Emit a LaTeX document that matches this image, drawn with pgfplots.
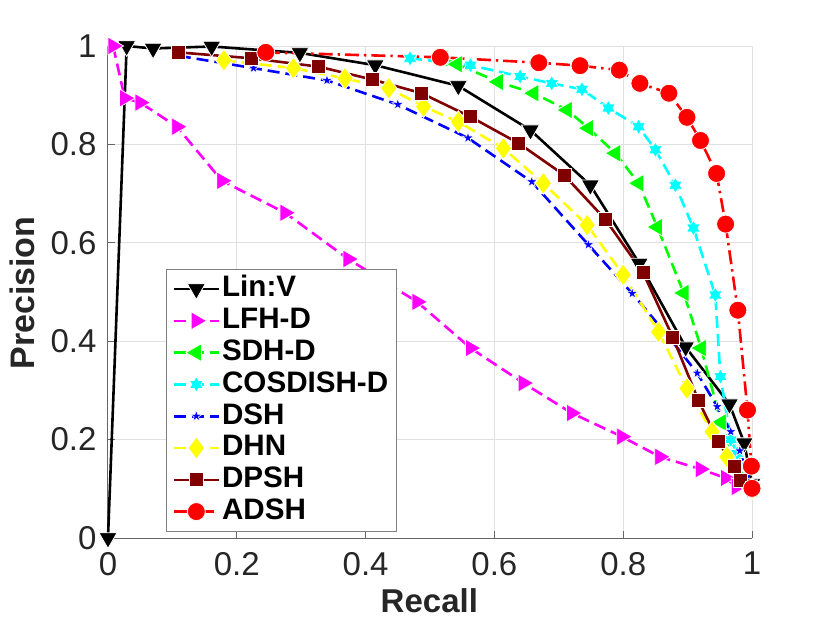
\documentclass[border=0pt]{standalone}
\usepackage{fontspec}
\setmainfont{Liberation Sans}
\usepackage{pgfplots}
\pgfplotsset{compat=1.18}
\usetikzlibrary{plotmarks}

\pgfdeclareplotmark{pentagram}{%
  \pgfpathmoveto{\pgfpointpolar{90}{\pgfplotmarksize}}%
  \pgfpathlineto{\pgfpointpolar{126}{0.382\pgfplotmarksize}}%
  \pgfpathlineto{\pgfpointpolar{162}{\pgfplotmarksize}}%
  \pgfpathlineto{\pgfpointpolar{198}{0.382\pgfplotmarksize}}%
  \pgfpathlineto{\pgfpointpolar{234}{\pgfplotmarksize}}%
  \pgfpathlineto{\pgfpointpolar{270}{0.382\pgfplotmarksize}}%
  \pgfpathlineto{\pgfpointpolar{306}{\pgfplotmarksize}}%
  \pgfpathlineto{\pgfpointpolar{342}{0.382\pgfplotmarksize}}%
  \pgfpathlineto{\pgfpointpolar{18}{\pgfplotmarksize}}%
  \pgfpathlineto{\pgfpointpolar{54}{0.382\pgfplotmarksize}}%
  \pgfpathclose\pgfusepathqfillstroke}
\pgfdeclareplotmark{hexagram}{%
  \pgfpathmoveto{\pgfpointpolar{90}{\pgfplotmarksize}}%
  \pgfpathlineto{\pgfpointpolar{120}{0.577\pgfplotmarksize}}%
  \pgfpathlineto{\pgfpointpolar{150}{\pgfplotmarksize}}%
  \pgfpathlineto{\pgfpointpolar{180}{0.577\pgfplotmarksize}}%
  \pgfpathlineto{\pgfpointpolar{210}{\pgfplotmarksize}}%
  \pgfpathlineto{\pgfpointpolar{240}{0.577\pgfplotmarksize}}%
  \pgfpathlineto{\pgfpointpolar{270}{\pgfplotmarksize}}%
  \pgfpathlineto{\pgfpointpolar{300}{0.577\pgfplotmarksize}}%
  \pgfpathlineto{\pgfpointpolar{330}{\pgfplotmarksize}}%
  \pgfpathlineto{\pgfpointpolar{0}{0.577\pgfplotmarksize}}%
  \pgfpathlineto{\pgfpointpolar{30}{\pgfplotmarksize}}%
  \pgfpathlineto{\pgfpointpolar{60}{0.577\pgfplotmarksize}}%
  \pgfpathclose\pgfusepathqfillstroke}

\definecolor{cK}{rgb}{0,0,0}
\definecolor{cM}{rgb}{1,0,1}
\definecolor{cG}{rgb}{0,1,0}
\definecolor{cC}{rgb}{0,1,1}
\definecolor{cB}{rgb}{0,0,1}
\definecolor{cY}{rgb}{1,1,0}
\definecolor{cD}{rgb}{0.5,0,0}
\definecolor{cR}{rgb}{1,0,0}

\begin{document}
\begin{tikzpicture}
\useasboundingbox (0,0) rectangle (415pt,311.5pt);
\begin{axis}[
  at={(54pt,42.5pt)}, anchor=south west,
  scale only axis, width=322pt, height=246pt,
  xmin=0, xmax=1, ymin=0, ymax=1,
  clip=false,
  axis x line*=bottom, axis y line*=left,
  axis line style={black!60, line width=0.5pt, -},
  tick align=inside, major tick length=3.5pt,
  tick style={black!60, line width=0.5pt},
  grid=major, major grid style={black!12, line width=0.5pt},
  xtick={0,0.2,0.4,0.6,0.8,1}, ytick={0,0.2,0.4,0.6,0.8,1},
  xticklabels={0,0.2,0.4,0.6,0.8,1},
  yticklabels={0,0.2,0.4,0.6,0.8,1},
  /pgf/number format/assume math mode=true,
  ticklabel style={font=\fontsize{16.5}{18}\selectfont, text=black!85},
  xticklabel style={inner sep=0pt, yshift=-6.8pt},
  yticklabel style={inner sep=0pt, xshift=-5.6pt},
  xlabel={Recall}, ylabel={Precision},
  xlabel style={at={(axis description cs:0.499,-0.1524)}, anchor=base, inner sep=0pt, font=\bfseries\fontsize{16.5}{18}\selectfont, text=black!85},
  ylabel style={at={(axis description cs:-0.1523,0.498)}, anchor=north, rotate=0, inner sep=0pt, font=\bfseries\fontsize{17}{18}\selectfont, text=black!85},
  every axis plot/.append style={line width=1.3pt},
  legend image code/.code={\draw[mark repeat=2,mark phase=2] plot coordinates {(0pt,0pt) (11.25pt,0pt) (22.5pt,0pt)};},
  legend cell align=left,
  legend style={at={(axis description cs:0.0901,0.0122)}, anchor=south west,
    draw=black!50, line width=0.5pt, fill=white,
    font=\bfseries\fontsize{14.8}{16}\selectfont,
    inner xsep=3pt, inner ysep=2pt,
    nodes={inner sep=1pt, text height=10.9pt, text depth=3pt}},
]
% Lin:V
\addplot[cK, solid, mark=triangle*, mark size=5.2pt, mark options={rotate=180, draw=white, fill=cK, line width=0.4pt, solid}] coordinates {
(0,0) (0.029,1.0) (0.07,0.995) (0.161,0.999) (0.298,0.986) (0.415,0.961) (0.544,0.919) (0.656,0.829) (0.749,0.717) (0.825,0.558) (0.897,0.388) (0.965,0.272) (0.988,0.193) (1.0,0.11)};
\addlegendentry{Lin:V}
% LFH-D
\addplot[cM, dash pattern=on 6pt off 3pt, mark=triangle*, mark size=5.2pt, mark options={rotate=-90, draw=white, fill=cM, line width=0.4pt, solid}] coordinates {
(0.008,1.0) (0.026,0.894) (0.05,0.885) (0.107,0.836) (0.177,0.726) (0.275,0.661) (0.373,0.567) (0.48,0.48) (0.563,0.386) (0.645,0.315) (0.72,0.254) (0.798,0.206) (0.857,0.165) (0.92,0.14) (0.959,0.122) (0.976,0.104) (1.0,0.1)};
\addlegendentry{LFH-D}
% SDH-D
\addplot[cG, dash pattern=on 6pt off 3pt, mark=triangle*, mark size=5.2pt, mark options={rotate=90, draw=white, fill=cG, line width=0.4pt, solid}] coordinates {
(0.52,0.975) (0.542,0.963) (0.606,0.927) (0.661,0.904) (0.713,0.87) (0.746,0.833) (0.788,0.782) (0.824,0.721) (0.853,0.632) (0.894,0.498) (0.921,0.386) (0.952,0.235) (0.975,0.15) (1.0,0.1)};
\addlegendentry{SDH-D}
% COSDISH-D
\addplot[cC, dash pattern=on 6pt off 3pt, mark=hexagram, mark size=4pt, mark options={draw=white, fill=cC, line width=0.4pt, solid}] coordinates {
(0.469,0.975) (0.563,0.961) (0.64,0.938) (0.689,0.924) (0.736,0.912) (0.777,0.874) (0.824,0.836) (0.85,0.789) (0.881,0.717) (0.909,0.63) (0.943,0.494) (0.951,0.328) (0.967,0.2) (0.977,0.172) (1.0,0.1)};
\addlegendentry{COSDISH-D}
% DSH
\addplot[cB, dash pattern=on 6pt off 3pt, mark=pentagram, mark size=3pt, mark options={draw=white, fill=cB, line width=0.3pt, solid}] coordinates {
(0.11,0.98) (0.226,0.955) (0.34,0.93) (0.45,0.881) (0.559,0.813) (0.658,0.724) (0.746,0.596) (0.814,0.497) (0.87,0.41) (0.915,0.335) (0.946,0.267) (0.967,0.216) (0.981,0.177) (1.0,0.1)};
\addlegendentry{DSH}
% DHN
\addplot[cY, dash pattern=on 6pt off 3pt, mark=diamond*, mark size=5.5pt, mark options={draw=white, fill=cY, line width=0.4pt, solid}] coordinates {
(0.18,0.971) (0.288,0.955) (0.368,0.934) (0.436,0.914) (0.49,0.877) (0.544,0.846) (0.614,0.792) (0.676,0.721) (0.744,0.636) (0.8,0.535) (0.855,0.419) (0.899,0.304) (0.938,0.216) (0.961,0.165) (1.0,0.1)};
\addlegendentry{DHN}
% DPSH
\addplot[cD, solid, mark=square*, mark size=3.5pt, mark options={draw=white, fill=cD, line width=0.4pt, solid}] coordinates {
(0.11,0.987) (0.223,0.975) (0.327,0.958) (0.41,0.932) (0.487,0.904) (0.563,0.856) (0.638,0.802) (0.708,0.738) (0.772,0.648) (0.831,0.539) (0.877,0.408) (0.917,0.279) (0.948,0.196) (0.972,0.145) (0.982,0.118) (1.0,0.1)};
\addlegendentry{DPSH}
% ADSH
\addplot[cR, dash pattern=on 7pt off 2.5pt on 1.2pt off 2.5pt, mark=*, mark size=4.5pt, mark options={draw=white, fill=cR, line width=0.4pt, solid}] coordinates {
(0.245,0.987) (0.516,0.977) (0.669,0.966) (0.733,0.96) (0.794,0.951) (0.826,0.924) (0.871,0.904) (0.899,0.855) (0.92,0.808) (0.945,0.741) (0.959,0.638) (0.978,0.463) (0.993,0.26) (0.999,0.146) (1.0,0.101)};
\addlegendentry{ADSH}
\end{axis}
\end{tikzpicture}
\end{document}
